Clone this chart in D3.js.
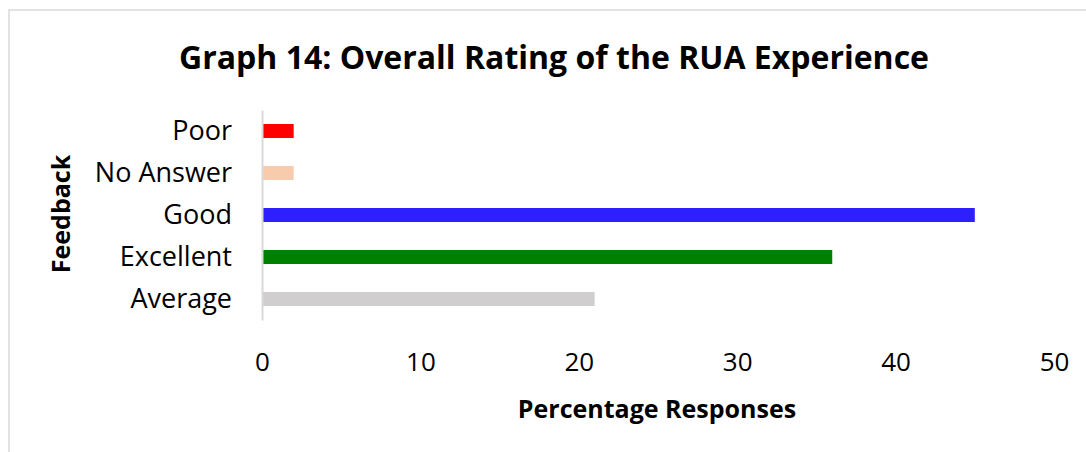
<!DOCTYPE html>
<html>
<head>
<meta charset="utf-8">
<script src="https://cdn.jsdelivr.net/npm/d3@7"></script>
<style>
  html, body { margin: 0; padding: 0; background: #fff; }
  text { font-family: "Open Sans", sans-serif; fill: #000; }
</style>
</head>
<body>
<div id="chart"></div>
<script>
  const categories = ["Poor", "No Answer", "Good", "Excellent", "Average"];
  const values = [2, 2, 45, 36, 21];
  const colors = ["#ff0000", "#f8cbad", "#2e1fff", "#008000", "#d0cece"];
  const xTicks = [0, 10, 20, 30, 40, 50];

  const width = 1086;
  const height = 452;
  const margin = { top: 110, right: 32, bottom: 132, left: 262 };

  const svg = d3
    .select("#chart")
    .append("svg")
    .attr("width", width)
    .attr("height", height);

  // chart frame
  svg
    .append("rect")
    .attr("x", 9)
    .attr("y", 10)
    .attr("width", width + 10)
    .attr("height", height + 10)
    .attr("fill", "none")
    .attr("stroke", "#d9d9d9")
    .attr("stroke-width", 1.5);

  const x = d3
    .scaleLinear()
    .domain([0, 50])
    .range([margin.left, width - margin.right]);

  const y = d3
    .scaleBand()
    .domain(categories)
    .range([margin.top, height - margin.bottom])
    .paddingInner(0.667)
    .paddingOuter(0.333);

  // bars
  svg
    .append("g")
    .selectAll("rect")
    .data(categories)
    .enter()
    .append("rect")
    .attr("x", x(0))
    .attr("y", (d) => y(d))
    .attr("width", (d, i) => x(values[i]) - x(0))
    .attr("height", y.bandwidth())
    .attr("fill", (d, i) => colors[i]);

  // y axis
  const yAxis = svg
    .append("g")
    .attr("transform", `translate(${x(0)},0)`)
    .call(d3.axisLeft(y).tickSize(0).tickPadding(30));
  yAxis.select(".domain").attr("stroke", "#d9d9d9").attr("stroke-width", 2);
  yAxis
    .selectAll("text")
    .style("font-size", "27px")
    .attr("dy", "0.35em");

  // x axis (labels only)
  const xAxis = svg
    .append("g")
    .attr("transform", `translate(0,${height - margin.bottom})`)
    .call(d3.axisBottom(x).tickValues(xTicks).tickSize(0).tickPadding(33));
  xAxis.select(".domain").remove();
  xAxis.selectAll("text").style("font-size", "26px");

  svg
    .append("text")
    .attr("x", 554)
    .attr("y", 60)
    .attr("text-anchor", "middle")
    .attr("dominant-baseline", "middle")
    .style("font-size", "32px")
    .style("font-weight", "bold")
    .text("Graph 14: Overall Rating of the RUA Experience");

  svg
    .append("text")
    .attr("x", 657)
    .attr("y", 411)
    .attr("text-anchor", "middle")
    .attr("dominant-baseline", "middle")
    .style("font-size", "25px")
    .style("font-weight", "bold")
    .text("Percentage Responses");

  svg
    .append("text")
    .attr("transform", "translate(63,214) rotate(-90)")
    .attr("text-anchor", "middle")
    .attr("dominant-baseline", "middle")
    .style("font-size", "25px")
    .style("font-weight", "bold")
    .text("Feedback");
</script>
</body>
</html>
